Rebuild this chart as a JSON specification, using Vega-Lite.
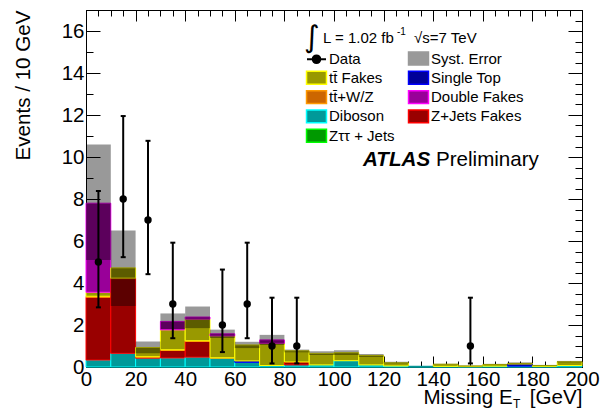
{
  "$schema": "https://vega.github.io/schema/vega-lite/v6.json",
  "width": 496,
  "height": 357,
  "autosize": {"type": "none"},
  "padding": {"left": 86, "top": 10, "right": 29, "bottom": 45},
  "background": "white",
  "config": {
    "view": {"stroke": "black", "strokeWidth": 1},
    "font": "Liberation Sans",
    "axis": {
      "grid": false,
      "domainColor": "black",
      "tickColor": "black",
      "labelColor": "black",
      "titleColor": "black",
      "labelFont": "Liberation Sans",
      "titleFont": "Liberation Sans",
      "labelFontSize": 20.5,
      "titleFontSize": 20.6,
      "titleFontWeight": "normal",
      "labelFlush": false,
      "labelOverlap": false,
      "labelBound": false
    }
  },
  "datasets": {
    "bkg": [
      {"lo": 0, "hi": 10, "comp": "Diboson", "k": 1, "n": 0.33},
      {"lo": 0, "hi": 10, "comp": "Z+Jets Fakes", "k": 3, "n": 2.99},
      {"lo": 0, "hi": 10, "comp": "tt̄+W/Z", "k": 4, "n": 0.05},
      {"lo": 0, "hi": 10, "comp": "tt̄ Fakes", "k": 5, "n": 0.19},
      {"lo": 0, "hi": 10, "comp": "Double Fakes", "k": 6, "n": 4.24},
      {"lo": 10, "hi": 20, "comp": "Diboson", "k": 1, "n": 0.65},
      {"lo": 10, "hi": 20, "comp": "Z+Jets Fakes", "k": 3, "n": 3.56},
      {"lo": 10, "hi": 20, "comp": "tt̄+W/Z", "k": 4, "n": 0.03},
      {"lo": 10, "hi": 20, "comp": "tt̄ Fakes", "k": 5, "n": 0.48},
      {"lo": 20, "hi": 30, "comp": "Diboson", "k": 1, "n": 0.42},
      {"lo": 20, "hi": 30, "comp": "Z+Jets Fakes", "k": 3, "n": 0.05},
      {"lo": 20, "hi": 30, "comp": "tt̄+W/Z", "k": 4, "n": 0.02},
      {"lo": 20, "hi": 30, "comp": "tt̄ Fakes", "k": 5, "n": 0.44},
      {"lo": 30, "hi": 40, "comp": "Diboson", "k": 1, "n": 0.43},
      {"lo": 30, "hi": 40, "comp": "Z+Jets Fakes", "k": 3, "n": 0.36},
      {"lo": 30, "hi": 40, "comp": "tt̄+W/Z", "k": 4, "n": 0.03},
      {"lo": 30, "hi": 40, "comp": "tt̄ Fakes", "k": 5, "n": 0.95},
      {"lo": 30, "hi": 40, "comp": "Double Fakes", "k": 6, "n": 0.40},
      {"lo": 40, "hi": 50, "comp": "Diboson", "k": 1, "n": 0.47},
      {"lo": 40, "hi": 50, "comp": "Z+Jets Fakes", "k": 3, "n": 0.75},
      {"lo": 40, "hi": 50, "comp": "tt̄+W/Z", "k": 4, "n": 0.03},
      {"lo": 40, "hi": 50, "comp": "tt̄ Fakes", "k": 5, "n": 1.03},
      {"lo": 40, "hi": 50, "comp": "Double Fakes", "k": 6, "n": 0.10},
      {"lo": 50, "hi": 60, "comp": "Diboson", "k": 1, "n": 0.42},
      {"lo": 50, "hi": 60, "comp": "tt̄+W/Z", "k": 4, "n": 0.02},
      {"lo": 50, "hi": 60, "comp": "tt̄ Fakes", "k": 5, "n": 1.04},
      {"lo": 50, "hi": 60, "comp": "Double Fakes", "k": 6, "n": 0.10},
      {"lo": 60, "hi": 70, "comp": "Diboson", "k": 1, "n": 0.22},
      {"lo": 60, "hi": 70, "comp": "Single Top", "k": 2, "n": 0.07},
      {"lo": 60, "hi": 70, "comp": "tt̄ Fakes", "k": 5, "n": 0.76},
      {"lo": 70, "hi": 80, "comp": "Diboson", "k": 1, "n": 0.07},
      {"lo": 70, "hi": 80, "comp": "tt̄ Fakes", "k": 5, "n": 1.06},
      {"lo": 70, "hi": 80, "comp": "Double Fakes", "k": 6, "n": 0.16},
      {"lo": 80, "hi": 90, "comp": "Diboson", "k": 1, "n": 0.10},
      {"lo": 80, "hi": 90, "comp": "Z+Jets Fakes", "k": 3, "n": 0.14},
      {"lo": 80, "hi": 90, "comp": "tt̄ Fakes", "k": 5, "n": 0.53},
      {"lo": 90, "hi": 100, "comp": "Diboson", "k": 1, "n": 0.10},
      {"lo": 90, "hi": 100, "comp": "tt̄ Fakes", "k": 5, "n": 0.55},
      {"lo": 100, "hi": 110, "comp": "Diboson", "k": 1, "n": 0.30},
      {"lo": 100, "hi": 110, "comp": "tt̄ Fakes", "k": 5, "n": 0.38},
      {"lo": 110, "hi": 120, "comp": "Diboson", "k": 1, "n": 0.10},
      {"lo": 110, "hi": 120, "comp": "tt̄ Fakes", "k": 5, "n": 0.45},
      {"lo": 120, "hi": 130, "comp": "Diboson", "k": 1, "n": 0.05},
      {"lo": 120, "hi": 130, "comp": "tt̄ Fakes", "k": 5, "n": 0.15},
      {"lo": 130, "hi": 140, "comp": "Diboson", "k": 1, "n": 0.03},
      {"lo": 140, "hi": 150, "comp": "Diboson", "k": 1, "n": 0.03},
      {"lo": 140, "hi": 150, "comp": "tt̄ Fakes", "k": 5, "n": 0.10},
      {"lo": 150, "hi": 160, "comp": "Diboson", "k": 1, "n": 0.02},
      {"lo": 150, "hi": 160, "comp": "tt̄ Fakes", "k": 5, "n": 0.03},
      {"lo": 160, "hi": 170, "comp": "Diboson", "k": 1, "n": 0.04},
      {"lo": 160, "hi": 170, "comp": "tt̄ Fakes", "k": 5, "n": 0.08},
      {"lo": 170, "hi": 180, "comp": "Diboson", "k": 1, "n": 0.04},
      {"lo": 170, "hi": 180, "comp": "Single Top", "k": 2, "n": 0.10},
      {"lo": 170, "hi": 180, "comp": "tt̄ Fakes", "k": 5, "n": 0.03},
      {"lo": 180, "hi": 190, "comp": "Diboson", "k": 1, "n": 0.03},
      {"lo": 180, "hi": 190, "comp": "tt̄ Fakes", "k": 5, "n": 0.04},
      {"lo": 190, "hi": 200, "comp": "Diboson", "k": 1, "n": 0.07},
      {"lo": 190, "hi": 200, "comp": "tt̄ Fakes", "k": 5, "n": 0.18}
    ],
    "syst": [
      {"lo": 0, "hi": 10, "elo": 5.1, "ehi": 10.6},
      {"lo": 10, "hi": 20, "elo": 2.9, "ehi": 6.5},
      {"lo": 20, "hi": 30, "elo": 0.65, "ehi": 1.21},
      {"lo": 30, "hi": 40, "elo": 1.8, "ehi": 2.55},
      {"lo": 40, "hi": 50, "elo": 1.85, "ehi": 2.88},
      {"lo": 50, "hi": 60, "elo": 1.38, "ehi": 1.78},
      {"lo": 60, "hi": 70, "elo": 0.9, "ehi": 1.2},
      {"lo": 70, "hi": 80, "elo": 1.05, "ehi": 1.53},
      {"lo": 80, "hi": 90, "elo": 0.7, "ehi": 0.83},
      {"lo": 90, "hi": 100, "elo": 0.57, "ehi": 0.75},
      {"lo": 100, "hi": 110, "elo": 0.57, "ehi": 0.8},
      {"lo": 110, "hi": 120, "elo": 0.48, "ehi": 0.62},
      {"lo": 120, "hi": 130, "elo": 0.16, "ehi": 0.25},
      {"lo": 130, "hi": 140, "elo": 0.0, "ehi": 0.06},
      {"lo": 140, "hi": 150, "elo": 0.1, "ehi": 0.16},
      {"lo": 150, "hi": 160, "elo": 0.02, "ehi": 0.08},
      {"lo": 160, "hi": 170, "elo": 0.09, "ehi": 0.15},
      {"lo": 170, "hi": 180, "elo": 0.12, "ehi": 0.22},
      {"lo": 180, "hi": 190, "elo": 0.04, "ehi": 0.1},
      {"lo": 190, "hi": 200, "elo": 0.21, "ehi": 0.29}
    ],
    "pts": [
      {"x": 5, "n": 5, "lo": 2.84, "hi": 8.38},
      {"x": 15, "n": 8, "lo": 5.23, "hi": 11.95},
      {"x": 25, "n": 7, "lo": 4.42, "hi": 10.77},
      {"x": 35, "n": 3, "lo": 1.37, "hi": 5.92},
      {"x": 55, "n": 2, "lo": 0.71, "hi": 4.64},
      {"x": 65, "n": 3, "lo": 1.37, "hi": 5.92},
      {"x": 75, "n": 1, "lo": 0.17, "hi": 3.30},
      {"x": 85, "n": 1, "lo": 0.17, "hi": 3.30},
      {"x": 155, "n": 1, "lo": 0.17, "hi": 3.30}
    ]
  },
  "layer": [
    {
      "data": {"name": "bkg"},
      "transform": [{"stack": "n", "groupby": ["lo"], "sort": [{"field": "k", "order": "ascending"}], "as": ["y0", "y1"]}],
      "mark": {"type": "rect", "strokeWidth": 1},
      "encoding": {
        "x": {"field": "lo", "type": "quantitative", "scale": {"domain": [0, 200], "nice": false, "zero": false},
          "axis": {"orient": "bottom", "values": [0,5,10,15,20,25,30,35,40,45,50,55,60,65,70,75,80,85,90,95,100,105,110,115,120,125,130,135,140,145,150,155,160,165,170,175,180,185,190,195,200],
            "format": "d",
            "labelExpr": "datum.value % 20 === 0 ? datum.label : ''",
            "tickSize": {"condition": {"test": "datum.value % 20 === 0", "value": -11}, "value": -6},
            "labelPadding": 13, "title": "Missing E\u00a0\u00a0\u00a0[GeV]", "titleAnchor": "end", "titlePadding": -7}},
        "x2": {"field": "hi"},
        "y": {"field": "y0", "type": "quantitative", "scale": {"domain": [0, 17], "nice": false, "zero": false},
          "axis": {"orient": "left", "values": [0,0.5,1,1.5,2,2.5,3,3.5,4,4.5,5,5.5,6,6.5,7,7.5,8,8.5,9,9.5,10,10.5,11,11.5,12,12.5,13,13.5,14,14.5,15,15.5,16,16.5,17],
            "format": "d",
            "labelExpr": "datum.value % 2 === 0 && datum.value < 17 ? datum.label : ''",
            "tickSize": {"condition": {"test": "datum.value % 2 === 0", "value": -14}, "value": -7},
            "labelPadding": 16, "title": "Events / 10 GeV", "titleAnchor": "end", "titlePadding": 28}},
        "y2": {"field": "y1"},
        "fill": {"field": "comp", "type": "nominal",
          "scale": {"domain": ["Data", "tt̄ Fakes", "tt̄+W/Z", "Diboson", "Zττ + Jets", "Syst. Error", "Single Top", "Double Fakes", "Z+Jets Fakes"],
                    "range": ["#000000", "#999900", "#cc6600", "#009999", "#009900", "#999999", "#000099", "#990099", "#990000"]},
          "legend": {
            "orient": "none", "legendX": 223, "legendY": 41, "columns": 2, "title": null, "padding": 0,
            "symbolType": "M-1.05,-0.68H1.05V0.68H-1.05Z", "symbolSize": 361, "symbolStrokeWidth": 1.5,
            "labelFont": "Liberation Sans", "labelFontSize": 15, "labelColor": "black", "labelOffset": 5, "labelLimit": 300,
            "rowPadding": 0.3, "columnPadding": 10,
            "encode": {"symbols": {"update": {
              "shape": {"signal": "datum.value === 'Data' ? 'M-1,0H1M0.4,0A0.4,0.4,0,1,1,-0.4,0A0.4,0.4,0,1,1,0.4,0Z' : 'M-1.05,-0.68H1.05V0.68H-1.05Z'"},
              "stroke": {"signal": "datum.value === 'Data' ? '#000000' : datum.value === 'Syst. Error' ? 'transparent' : datum.value === 'tt̄ Fakes' ? '#ffff00' : datum.value === 'Single Top' ? '#0000ff' : datum.value === 'tt̄+W/Z' ? '#ff9900' : datum.value === 'Double Fakes' ? '#ff00ff' : datum.value === 'Diboson' ? '#00ffff' : datum.value === 'Z+Jets Fakes' ? '#ff0000' : '#00ff00'"},
              "strokeWidth": {"signal": "datum.value === 'Data' ? 2 : 1.5"}
            }}}
          }},
        "stroke": {"field": "comp", "type": "nominal",
          "scale": {"domain": ["Data", "tt̄ Fakes", "tt̄+W/Z", "Diboson", "Zττ + Jets", "Syst. Error", "Single Top", "Double Fakes", "Z+Jets Fakes"],
                    "range": ["#000000", "#ffff00", "#ff9900", "#00ffff", "#00ff00", "#999999", "#0000ff", "#ff00ff", "#ff0000"]},
          "legend": null}
      }
    },
    {
      "data": {"name": "syst"},
      "mark": {"type": "rect", "fill": "black", "fillOpacity": 0.4, "strokeWidth": 0},
      "encoding": {
        "x": {"field": "lo", "type": "quantitative", "scale": {"domain": [0, 200], "nice": false, "zero": false},
          "axis": {"orient": "top", "labels": false, "title": null, "values": [0,5,10,15,20,25,30,35,40,45,50,55,60,65,70,75,80,85,90,95,100,105,110,115,120,125,130,135,140,145,150,155,160,165,170,175,180,185,190,195,200],
            "tickSize": {"condition": {"test": "datum.value % 20 === 0", "value": -11}, "value": -6}}},
        "x2": {"field": "hi"},
        "y": {"field": "elo", "type": "quantitative", "scale": {"domain": [0, 17], "nice": false, "zero": false},
          "axis": {"orient": "right", "labels": false, "title": null, "values": [0,0.5,1,1.5,2,2.5,3,3.5,4,4.5,5,5.5,6,6.5,7,7.5,8,8.5,9,9.5,10,10.5,11,11.5,12,12.5,13,13.5,14,14.5,15,15.5,16,16.5,17],
            "tickSize": {"condition": {"test": "datum.value % 2 === 0", "value": -14}, "value": -7}}},
        "y2": {"field": "ehi"}
      }
    },
    {
      "data": {"name": "pts"},
      "mark": {"type": "rule", "color": "black", "strokeWidth": 2},
      "encoding": {
        "x": {"field": "x", "type": "quantitative", "scale": {"domain": [0, 200], "nice": false, "zero": false}, "axis": null},
        "y": {"field": "lo", "type": "quantitative", "scale": {"domain": [0, 17], "nice": false, "zero": false}, "axis": null},
        "y2": {"field": "hi"}
      }
    },
    {
      "data": {"name": "pts"},
      "transform": [{"fold": ["lo", "hi"], "as": ["end", "v"]}],
      "mark": {"type": "point", "shape": "M-1,0H1", "size": 25, "stroke": "black", "strokeWidth": 2, "filled": false, "opacity": 1},
      "encoding": {
        "x": {"field": "x", "type": "quantitative", "scale": {"domain": [0, 200], "nice": false, "zero": false}, "axis": null},
        "y": {"field": "v", "type": "quantitative", "scale": {"domain": [0, 17], "nice": false, "zero": false}, "axis": null}
      }
    },
    {
      "data": {"name": "pts"},
      "mark": {"type": "circle", "size": 55, "color": "black", "opacity": 1},
      "encoding": {
        "x": {"field": "x", "type": "quantitative", "scale": {"domain": [0, 200], "nice": false, "zero": false}, "axis": null},
        "y": {"field": "n", "type": "quantitative", "scale": {"domain": [0, 17], "nice": false, "zero": false}, "axis": null}
      }
    },
    {
      "data": {"values": [{}]},
      "mark": {"type": "text", "text": "∫", "font": "DejaVu Sans", "fontSize": 30, "align": "center", "baseline": "middle", "color": "black"},
      "encoding": {
        "x": {"datum": 91.1, "type": "quantitative", "scale": {"domain": [0, 200], "nice": false, "zero": false}, "axis": null},
        "y": {"datum": 15.69, "type": "quantitative", "scale": {"domain": [0, 17], "nice": false, "zero": false}, "axis": null}
      }
    },
    {
      "data": {"values": [{}]},
      "mark": {"type": "text", "text": "L = 1.02 fb", "font": "Liberation Sans", "fontSize": 15, "align": "left", "baseline": "alphabetic", "color": "black"},
      "encoding": {
        "x": {"datum": 95.6, "type": "quantitative", "scale": {"domain": [0, 200], "nice": false, "zero": false}, "axis": null},
        "y": {"datum": 15.43, "type": "quantitative", "scale": {"domain": [0, 17], "nice": false, "zero": false}, "axis": null}
      }
    },
    {
      "data": {"values": [{}]},
      "mark": {"type": "text", "text": "-1", "font": "Liberation Sans", "fontSize": 10, "align": "left", "baseline": "alphabetic", "color": "black"},
      "encoding": {
        "x": {"datum": 125.4, "type": "quantitative", "scale": {"domain": [0, 200], "nice": false, "zero": false}, "axis": null},
        "y": {"datum": 15.81, "type": "quantitative", "scale": {"domain": [0, 17], "nice": false, "zero": false}, "axis": null}
      }
    },
    {
      "data": {"values": [{}]},
      "mark": {"type": "text", "text": "√s=7 TeV", "font": "Liberation Sans", "fontSize": 15, "align": "left", "baseline": "alphabetic", "color": "black"},
      "encoding": {
        "x": {"datum": 132.3, "type": "quantitative", "scale": {"domain": [0, 200], "nice": false, "zero": false}, "axis": null},
        "y": {"datum": 15.43, "type": "quantitative", "scale": {"domain": [0, 17], "nice": false, "zero": false}, "axis": null}
      }
    },
    {
      "data": {"values": [{}]},
      "mark": {"type": "text", "text": "ATLAS", "font": "Liberation Sans", "fontSize": 20.6, "fontWeight": "bold", "fontStyle": "italic", "align": "left", "baseline": "alphabetic", "color": "black"},
      "encoding": {
        "x": {"datum": 111.7, "type": "quantitative", "scale": {"domain": [0, 200], "nice": false, "zero": false}, "axis": null},
        "y": {"datum": 9.57, "type": "quantitative", "scale": {"domain": [0, 17], "nice": false, "zero": false}, "axis": null}
      }
    },
    {
      "data": {"values": [{}]},
      "mark": {"type": "text", "text": "Preliminary", "font": "Liberation Sans", "fontSize": 20.6, "align": "left", "baseline": "alphabetic", "color": "black"},
      "encoding": {
        "x": {"datum": 141.1, "type": "quantitative", "scale": {"domain": [0, 200], "nice": false, "zero": false}, "axis": null},
        "y": {"datum": 9.57, "type": "quantitative", "scale": {"domain": [0, 17], "nice": false, "zero": false}, "axis": null}
      }
    },
    {
      "data": {"values": [{}]},
      "mark": {"type": "text", "text": "T", "font": "Liberation Sans", "fontSize": 12, "align": "left", "baseline": "alphabetic", "color": "black"},
      "encoding": {
        "x": {"datum": 172.2, "type": "quantitative", "scale": {"domain": [0, 200], "nice": false, "zero": false}, "axis": null},
        "y": {"datum": -1.95, "type": "quantitative", "scale": {"domain": [0, 17], "nice": false, "zero": false}, "axis": null}
      }
    }
  ],
  "resolve": {"axis": {"x": "independent", "y": "independent"}}
}
